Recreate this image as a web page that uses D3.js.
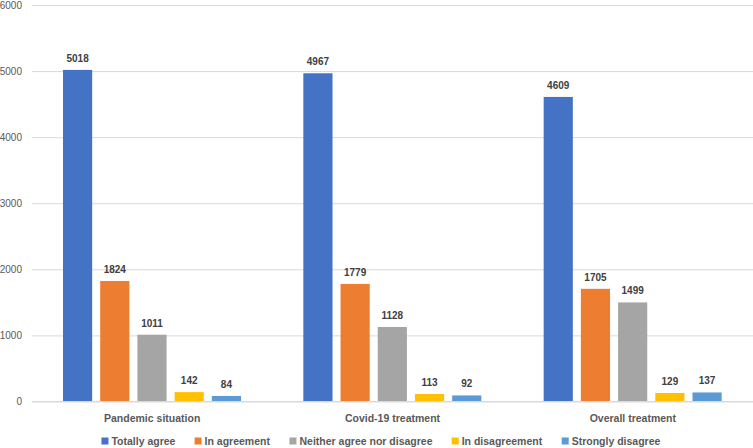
<!DOCTYPE html>
<html><head><meta charset="utf-8">
<script src="https://cdn.jsdelivr.net/npm/d3@7"></script>
<style>body{margin:0;background:#fff}svg{display:block}</style>
</head><body>
<svg id="c" width="753" height="448"></svg>
<script>
const categories = ["Pandemic situation", "Covid-19 treatment", "Overall treatment"];
const seriesNames = ["Totally agree", "In agreement", "Neither agree nor disagree", "In disagreement", "Strongly disagree"];
const totallyAgree = [5018, 4967, 4609];
const inAgreement = [1824, 1779, 1705];
const neither = [1011, 1128, 1499];
const inDisagreement = [142, 113, 129];
const stronglyDisagree = [84, 92, 137];
const colors = ["#4472C4", "#ED7D31", "#A5A5A5", "#FFC000", "#5B9BD5"];
const yTicks = [0, 1000, 2000, 3000, 4000, 5000, 6000];

(function () {
const series = [totallyAgree, inAgreement, neither, inDisagreement, stronglyDisagree];
const font = "Liberation Sans, Arial, sans-serif";
const svg = d3.select("#c");
const mLeft = 32, mRight = 753, mTop = 5, mBottom = 401.5;

const y = d3.scaleLinear().domain([0, 6000]).range([mBottom, mTop]);
const x0 = d3.scaleBand().domain(categories).range([mLeft, mRight]).paddingInner(0).paddingOuter(0);
const x1 = d3.scaleBand().domain(d3.range(seriesNames.length)).range([31, 209]).paddingInner(0.216).paddingOuter(0);

const yAxis = d3.axisLeft(y).tickValues(yTicks).tickSize(-(mRight - mLeft)).tickFormat(d3.format("d"));
const g = svg.append("g").attr("transform", `translate(${mLeft},0)`).call(yAxis);
g.select(".domain").remove();
g.selectAll(".tick line").attr("stroke", "#D9D9D9").attr("stroke-width", 1);
g.selectAll(".tick text").attr("x", -10).attr("fill", "#595959").style("font-family", font).style("font-size", "10px");

const groups = svg.append("g").selectAll("g").data(categories).join("g")
  .attr("transform", d => `translate(${x0(d)},0)`);
series.forEach((s, si) => {
  groups.append("rect")
    .attr("x", x1(si)).attr("width", x1.bandwidth())
    .attr("y", (d, i) => y(s[i])).attr("height", (d, i) => y(0) - y(s[i]))
    .attr("fill", colors[si]);
  groups.append("text")
    .attr("x", x1(si) + x1.bandwidth() / 2).attr("y", (d, i) => y(s[i]) - 8)
    .attr("text-anchor", "middle").attr("fill", "#404040")
    .style("font-family", font).style("font-size", "10px").style("font-weight", "bold")
    .text((d, i) => s[i]);
});

svg.append("line").attr("x1", mLeft).attr("x2", mRight).attr("y1", y(0)).attr("y2", y(0)).attr("stroke", "#D9D9D9");

const xAxis = d3.axisBottom(x0).tickSize(0).tickPadding(0);
const xa = svg.append("g").attr("transform", `translate(0,${mBottom})`).call(xAxis);
xa.select(".domain").remove();
xa.selectAll(".tick text").attr("dy", null).attr("y", 20).attr("fill", "#595959").style("font-family", font).style("font-size", "10.5px").style("font-weight", "bold");

const leg = svg.append("g");
const items = leg.selectAll("g").data(seriesNames).join("g");
items.append("rect").attr("width", 7).attr("height", 7).attr("y", -7.5).attr("fill", (d, i) => colors[i]);
items.append("text").attr("x", 10).attr("y", 0).attr("fill", "#595959")
  .style("font-family", font).style("font-size", "10.5px").style("font-weight", "bold").text(d => d);
const widths = [];
items.each(function () { widths.push(this.getBBox().width); });
const gap = 19;
const total = d3.sum(widths) + gap * (widths.length - 1);
let start = 381 - total / 2;
items.attr("transform", (d, i) => { const t = `translate(${start},${445})`; start += widths[i] + gap; return t; });
})();
</script>
</body></html>
